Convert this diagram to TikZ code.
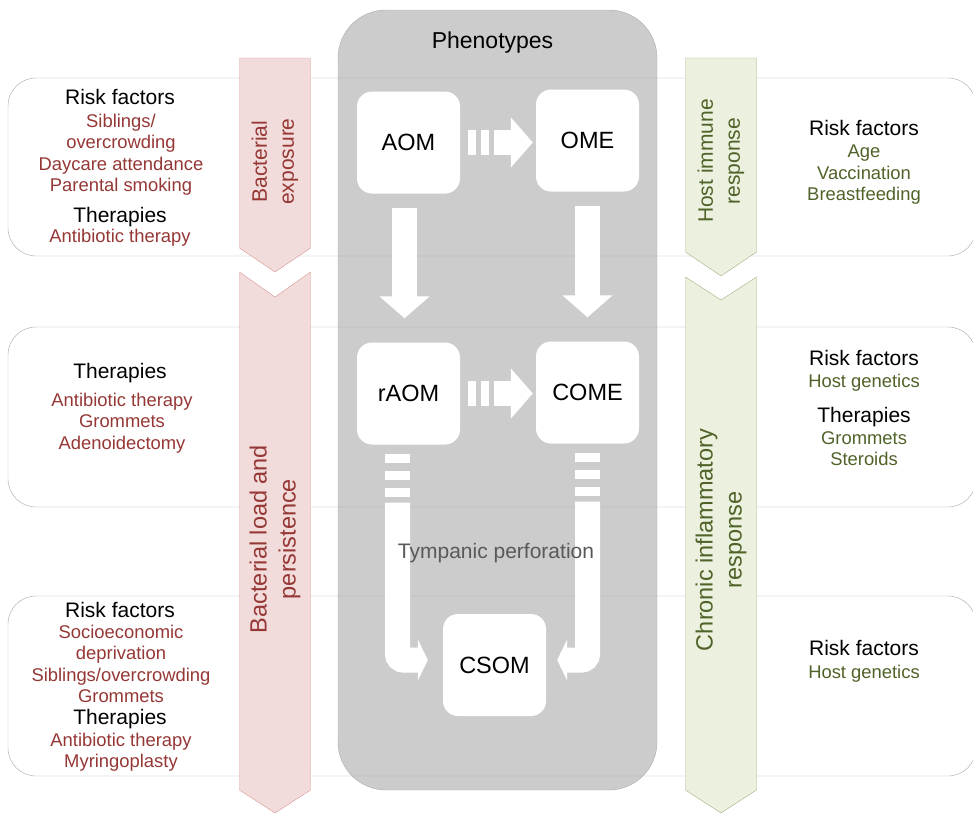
\documentclass[tikz,border=0pt]{standalone}
\usepackage{fontspec}
\setmainfont{Liberation Sans}
\usepackage{tikz}
\usetikzlibrary{arrows.meta,calc}

\definecolor{redtext}{HTML}{953735}
\definecolor{greentext}{HTML}{4F6228}
\definecolor{pinkfill}{HTML}{F2DCDB}
\definecolor{pinkline}{HTML}{D99694}
\definecolor{greenfill}{HTML}{EBF1DE}
\definecolor{greenline}{HTML}{A0B083}
\definecolor{phengray}{HTML}{CCCCCC}
\definecolor{phenline}{HTML}{ADADAD}
\definecolor{rowline}{HTML}{A6A6A6}

\tikzstyle{rowbox}=[draw=rowline,rounded corners=28pt]
\tikzstyle{phenbox}=[fill=phengray,draw=phenline,rounded corners=48pt]
\tikzstyle{phen}=[fill=white,rounded corners=15pt,minimum width=103pt,minimum height=102pt,inner sep=0pt,font=\fontsize{23.5}{28}\selectfont]
\tikzstyle{head}=[anchor=base,inner sep=0pt,font=\fontsize{21}{25}\selectfont]
\tikzstyle{redlist}=[anchor=north,align=center,inner sep=0pt,text=redtext,font=\fontsize{18.4}{21.3}\selectfont]
\tikzstyle{greenlist}=[redlist,text=greentext]
\tikzstyle{pinkband}=[fill=pinkfill,draw=pinkline]
\tikzstyle{greenband}=[fill=greenfill,draw=greenline]
\tikzstyle{bandtext}=[rotate=90,align=center,inner sep=0pt]
\tikzstyle{blockarrow}=[white,line width=25pt,-{Triangle[width=49pt,length=22pt]}]
\tikzstyle{elbow}=[white,line width=25pt,rounded corners=6pt,-{Triangle[width=41pt,length=10pt]}]
\tikzstyle{hbars}=[white,line width=25pt,dash pattern=on 8pt off 5pt]
\tikzstyle{vbars}=[white,line width=25pt,dash pattern=on 9pt off 8pt]

\begin{document}
\begin{tikzpicture}[x=1pt,y=-1pt]
    \useasboundingbox (0,0) rectangle (973,814);

    % phenotype column and the three rows
    \draw[phenbox] (338,10) rectangle (657,790);
    \node[font=\fontsize{23}{27}\selectfont] (phenotypes) at (492.5,43) {Phenotypes};
    \draw[rowbox] (8,78) rectangle (976,256);
    \draw[rowbox] (8,327) rectangle (976,507);
    \draw[rowbox] (8,596) rectangle (976,776);

    % bands
    \draw[pinkband] (239.5,58) -- (310.5,58) -- (310.5,248) -- (275,272) -- (239.5,248) -- cycle;
    \draw[pinkband] (239.5,272) -- (275,297) -- (310.5,272) -- (310.5,790) -- (275,813) -- (239.5,790) -- cycle;
    \draw[greenband] (685.5,58) -- (756.5,58) -- (756.5,252) -- (721,276) -- (685.5,252) -- cycle;
    \draw[greenband] (685.5,277) -- (721,300) -- (756.5,277) -- (756.5,790) -- (721,813) -- (685.5,790) -- cycle;
    \node[bandtext,text=redtext,font=\fontsize{21}{27}\selectfont] (exposure) at (275,161.5) {Bacterial\\exposure};
    \node[bandtext,text=redtext,font=\fontsize{23.5}{29}\selectfont] (load) at (275,539) {Bacterial load and\\persistence};
    \node[bandtext,text=greentext,font=\fontsize{21}{27}\selectfont] (immune) at (721,161) {Host immune\\response};
    \node[bandtext,text=greentext,font=\fontsize{23.5}{29}\selectfont] (chronic) at (721,540) {Chronic inflammatory\\response};

    % phenotypes
    \node[phen] (aom) at (408.5,142.5) {AOM};
    \node[phen] (ome) at (587.5,140.5) {OME};
    \node[phen] (raom) at (408.5,393.5) {rAOM};
    \node[phen] (come) at (587.5,392.5) {COME};
    \node[phen] (csom) at (494.5,665) {CSOM};

    \draw[hbars] ([xshift=8pt]aom.east) -- ++(21,0);
    \draw[blockarrow] ([xshift=34pt]aom.east) -- ([xshift=-3pt]ome.west |- aom.east);
    \draw[hbars] ([xshift=8pt]raom.east) -- ++(21,0);
    \draw[blockarrow] ([xshift=34pt]raom.east) -- ([xshift=-3pt]come.west |- raom.east);
    \draw[blockarrow] ([xshift=-4pt,yshift=-14pt]aom.south) -- ([xshift=-4pt,yshift=24pt]raom.north);
    \draw[blockarrow] ([yshift=-14pt]ome.south) -- ([yshift=24pt]come.north);
    \draw[vbars] ([xshift=-11pt,yshift=-9pt]raom.south) -- ++(0,44);
    \draw[vbars] ([yshift=-9pt]come.south) -- ++(0,44);
    \draw[elbow,shorten >=15pt] ([xshift=-11pt,yshift=-58pt]raom.south) |- ([yshift=5pt]csom.west);
    \draw[elbow,shorten >=11pt] ([yshift=-58pt]come.south) |- ([yshift=5pt]csom.east);
    \node[text=black!65,font=\fontsize{21}{25}\selectfont] (tympanic) at (496,553) {Tympanic perforation};

    % left texts
    \node[head] (risk1) at (120,104.5) {Risk factors};
    \node[redlist] (risk1list) at (121,114) {Siblings/\\overcrowding\\Daycare attendance\\Parental smoking};
    \node[head] (ther1) at (120,222.5) {Therapies};
    \node[redlist] (ther1list) at (120,229) {Antibiotic therapy};
    \node[head] (ther2) at (120,378.5) {Therapies};
    \node[redlist] (ther2list) at (122,393) {Antibiotic therapy\\Grommets\\Adenoidectomy};
    \node[head] (risk3) at (120,617.5) {Risk factors};
    \node[redlist] (risk3list) at (121,625) {Socioeconomic\\deprivation\\Siblings/overcrowding\\Grommets};
    \node[head] (ther3) at (120,724.5) {Therapies};
    \node[redlist] (ther3list) at (121,733) {Antibiotic therapy\\Myringoplasty};

    % right texts
    \node[head] (hrisk1) at (864,135.5) {Risk factors};
    \node[greenlist] (hrisk1list) at (864,145) {Age\\Vaccination\\Breastfeeding};
    \node[head] (hrisk2) at (864,365.5) {Risk factors};
    \node[greenlist] (hrisk2list) at (864,374) {Host genetics};
    \node[head] (hther2) at (864,422.5) {Therapies};
    \node[greenlist] (hther2list) at (864,431) {Grommets\\Steroids};
    \node[head] (hrisk3) at (864,655.5) {Risk factors};
    \node[greenlist] (hrisk3list) at (864,665) {Host genetics};
\end{tikzpicture}
\end{document}
